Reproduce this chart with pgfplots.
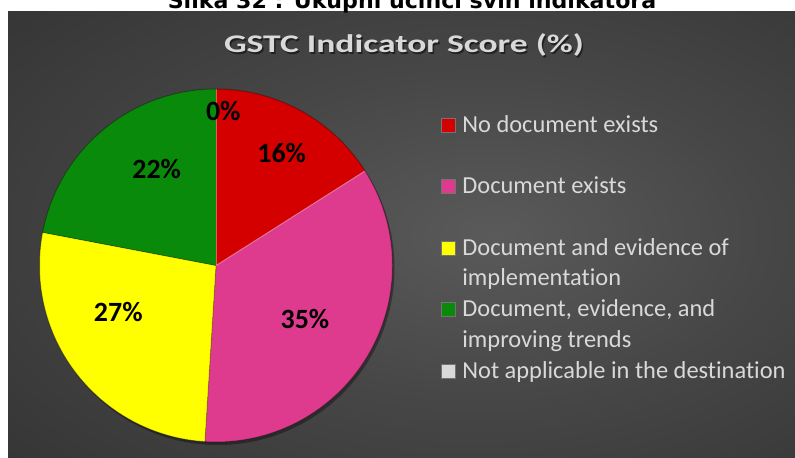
\documentclass[border=0pt]{standalone}
\usepackage{pgfplots}
\pgfplotsset{compat=1.18}
\usepackage{pgfplotstable}
\usepackage{fontspec}
\setmainfont{Carlito}[Ligatures=NoCommon]
\newfontfamily\capfont{DejaVu Sans}
\definecolor{pieRed}{HTML}{D40000}
\definecolor{piePink}{HTML}{DE3B8E}
\definecolor{pieYellow}{HTML}{FFFF00}
\definecolor{pieGreen}{HTML}{0A8A0A}
\definecolor{pieGray}{HTML}{D9D9D9}
\definecolor{txtGray}{HTML}{D9D9D9}
\definecolor{bgIn}{HTML}{5A5A5A}
\definecolor{bgMid}{HTML}{474747}
\definecolor{bgOut}{HTML}{2C2C2C}
\pgfdeclareradialshading{bgshade}{\pgfpoint{6bp}{0bp}}{%
  color(0bp)=(bgIn); color(18bp)=(bgMid); color(45bp)=(bgOut!85!bgMid); color(70bp)=(bgOut); color(100bp)=(bgOut)}
\newcommand\legsq[1]{\addlegendimage{legend image code/.code={%
  \fill[#1] (0bp,-5.5bp) rectangle (14bp,8.5bp);
  \draw[black!55, line width=0.4bp] (0bp,-5.5bp) rectangle (14bp,8.5bp);}}}
\newcommand\titletext{\scalebox{1.40}[1]{\bfseries\fontsize{25.5}{30}\selectfont GSTC Indicator Score (\%)}}

% share of each category (%), clockwise from 12 o'clock
\pgfplotstableread{
value
16
35
27
22
0
}\piedata
% label positions (pixel layout, y measured upward)
\pgfplotstableread{
x y text
281.7 295.3 16\%
305.0 129.7 35\%
118.3 137.0 27\%
156.7 279.7 22\%
223.3 337.3 0\%
}\labeldata

\pgfplotstablegetelem{0}{value}\of\piedata\let\vA\pgfplotsretval
\pgfplotstablegetelem{1}{value}\of\piedata\let\vB\pgfplotsretval
\pgfplotstablegetelem{2}{value}\of\piedata\let\vC\pgfplotsretval
\pgfplotstablegetelem{3}{value}\of\piedata\let\vD\pgfplotsretval
\pgfplotstablegetelem{4}{value}\of\piedata\let\vE\pgfplotsretval
\pgfmathsetmacro\aO{90}
\pgfmathsetmacro\aA{\aO-3.6*\vA}
\pgfmathsetmacro\aB{\aA-3.6*\vB}
\pgfmathsetmacro\aC{\aB-3.6*\vC}
\pgfmathsetmacro\aD{\aC-3.6*\vD}
\pgfmathsetmacro\aE{\aD-3.6*\vE}
\def\cx{216}\def\cy{192.5}\def\R{176.5bp}

\begin{document}
\begin{tikzpicture}
\begin{axis}[
  x=1bp, y=1bp,
  xmin=0, xmax=795, ymin=0, ymax=458,
  hide axis, clip=false,
  legend cell align=left,
  legend style={at={(axis cs:441,343)}, anchor=north west, draw=none, fill=none,
    inner sep=0pt, outer sep=0pt, row sep=7.75bp, column sep=7bp,
    font=\fontsize{24.5}{29}\selectfont, text=txtGray,
    nodes={inner sep=0pt, outer sep=0pt, text height=17bp, text depth=6bp}},
]
% background panel
\shade[shading=bgshade] (axis cs:8,0) rectangle (axis cs:795,446);
% caption (top part cut by page edge)
\node[anchor=base, inner sep=0pt, font=\capfont\bfseries\fontsize{22.2}{26}\selectfont, text=black]
  at (axis cs:412,449) {Slika 32 : Ukupni učinci svih indikatora};
% title
\node[anchor=base, inner sep=0pt, text=black, opacity=0.5]
  at (axis cs:405.5,403.5) {\titletext};
\node[anchor=base, inner sep=0pt, text=txtGray]
  at (axis cs:404,405) {\titletext};
% pie shadow
\fill[black, opacity=0.35] (axis cs:\cx+2,\cy-3) circle[radius=\R];
% slices
\fill[pieRed] (axis cs:\cx,\cy) -- ++(\aO:\R) arc[start angle=\aO, end angle=\aA, radius=\R] -- cycle;
\fill[piePink] (axis cs:\cx,\cy) -- ++(\aA:\R) arc[start angle=\aA, end angle=\aB, radius=\R] -- cycle;
\fill[pieYellow] (axis cs:\cx,\cy) -- ++(\aB:\R) arc[start angle=\aB, end angle=\aC, radius=\R] -- cycle;
\fill[pieGreen] (axis cs:\cx,\cy) -- ++(\aC:\R) arc[start angle=\aC, end angle=\aD, radius=\R] -- cycle;
% slice edges
\draw[white, opacity=0.35, line width=1bp] (axis cs:\cx,\cy) -- ++(\aO:\R);
\draw[white, opacity=0.35, line width=1bp] (axis cs:\cx,\cy) -- ++(\aA:\R);
\draw[black, opacity=0.25, line width=1bp] (axis cs:\cx,\cy) -- ++(\aB:\R);
\draw[black, opacity=0.25, line width=1bp] (axis cs:\cx,\cy) -- ++(\aC:\R);
\draw[black, opacity=0.3, line width=1bp] (axis cs:\cx,\cy) circle[radius=\R];
% data labels
\addplot[only marks, mark=none, nodes near coords, point meta=explicit symbolic,
  nodes near coords style={anchor=base, inner sep=0pt, font=\bfseries\fontsize{28}{32}\selectfont, text=black},
  forget plot]
  table[x=x, y=y, meta=text] {\labeldata};
% legend
\legsq{pieRed}\addlegendentry{No document exists}
\addlegendimage{empty legend}\addlegendentry{}
\legsq{piePink}\addlegendentry{Document exists}
\addlegendimage{empty legend}\addlegendentry{}
\legsq{pieYellow}\addlegendentry{Document and evidence of}
\addlegendimage{empty legend}\addlegendentry{implementation}
\legsq{pieGreen}\addlegendentry{Document, evidence, and}
\addlegendimage{empty legend}\addlegendentry{improving trends}
\legsq{pieGray}\addlegendentry{Not applicable in the destination}
\end{axis}
\pgfresetboundingbox
\useasboundingbox (0,0) rectangle (795bp,458bp);
\end{tikzpicture}
\end{document}
